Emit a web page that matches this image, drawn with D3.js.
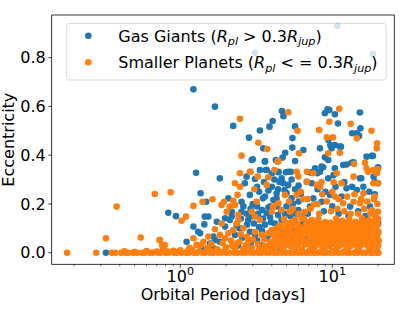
<!DOCTYPE html>
<html><head><meta charset="utf-8">
<script src="https://cdn.jsdelivr.net/npm/d3@7"></script>
<style>html,body{margin:0;padding:0;background:#fff;}svg{display:block;font-family:"DejaVu Sans",sans-serif;}</style>
</head><body>
<svg id="chart" width="415" height="311"></svg>
<script>
// ---- data: [orbital period (days), eccentricity] ----
const gasGiants = [
[3.1,0.82],[10.8,0.93],[18.5,0.815],
[1.22,0.670],[1.69,0.599],[2.23,0.520],[2.83,0.472],[3.34,0.501],[3.86,0.517],[4.05,0.540],[4.66,0.581],[4.77,0.560],[5.47,0.470],[5.69,0.518],[5.46,0.431],[6.45,0.421],[8.94,0.572],[9.3,0.588],[9.56,0.585],[10.4,0.568],[10.9,0.530],[15.2,0.575],[15.3,0.510],[13.5,0.490],[15.0,0.479],[9.7,0.442],[10.4,0.442],[11.2,0.435],[9.9,0.428],[8.3,0.428],[18.2,0.397],[8.94,0.391],[9.4,0.380],[13.4,0.369],[11.8,0.360],[8.7,0.350],[10.4,0.346],[7.33,0.328],[7.96,0.326],
[3.52,0.428],[2.95,0.380],[3.61,0.376],[4.25,0.380],[4.71,0.390],[5.69,0.376],[3.34,0.339],[3.66,0.339],[4.42,0.332],[5.13,0.332],[5.34,0.332],
[1.27,0.328],[1.82,0.305],[1.36,0.244],[1.48,0.209],[2.07,0.223],[0.834,0.164],[0.937,0.150],[1.45,0.148],[1.53,0.148],[1.44,0.116],[1.31,0.086],[1.74,0.127],[1.97,0.141],[2.18,0.148],[2.18,0.168],[1.82,0.045],[1.10,0.045],[1.57,0.038],[1.65,0.018],[1.69,0.052],[1.38,0.018],[2.35,0.114],[2.29,0.073],[0.324,0.0],[1.22,0.107],[1.35,0.080],[1.65,0.066],[1.97,0.107],[2.12,0.134],[2.73,0.160],[3.0,0.200],[3.5,0.223],
[2.73,0.312],[4.42,0.330],[4.64,0.305],[5.13,0.278],[6.8,0.291],[7.33,0.285],[2.66,0.285],[4.0,0.270],[2.87,0.237],[2.53,0.209],[5.4,0.223],[3.61,0.230],[4.3,0.223],[2.53,0.168],[2.8,0.134],[3.7,0.162],[5.98,0.175],[7.13,0.189],[4.64,0.134],[4.19,0.120],[6.45,0.120],[2.87,0.086],[3.1,0.073],[3.7,0.059],[4.3,0.066],[4.88,0.032],[3.79,0.025],
[8.3,0.332],[9.4,0.305],[10.2,0.318],[15.2,0.305],[12.4,0.264],[14.5,0.257],[9.66,0.237],[7.5,0.223],[8.5,0.209],[11.5,0.230],[17.7,0.189],[13.1,0.189],
[3.0,0.383],[3.6,0.373],[4.9,0.41],[4.95,0.33],[7.1,0.33],[7.7,0.346],[8.5,0.353],[12.4,0.362],[13.8,0.371],[15.5,0.305],[18.7,0.312],[19.1,0.29],[20.0,0.285],[3.1,0.302],[3.2,0.27],[3.7,0.34],[4.0,0.326],[4.16,0.30],[4.75,0.285],[4.85,0.257],[4.3,0.243],[4.1,0.216],[3.9,0.19],[16.8,0.394],[18.5,0.397],[20.0,0.350],[14.5,0.49],[11.4,0.435],[9.42,0.462],
[2.6,0.19],[2.9,0.18],[3.2,0.19],[3.45,0.175],[3.8,0.185],[4.3,0.19],[4.6,0.175],[5.0,0.19],[5.5,0.2],[6.0,0.21],
[2.5,0.14],[2.95,0.15],[3.25,0.16],[3.5,0.14],[3.9,0.145],[4.4,0.155],[4.9,0.16],[5.3,0.15],[5.8,0.16],[6.3,0.15],[6.9,0.16],
[2.45,0.1],[2.75,0.115],[3.05,0.12],[3.3,0.105],[3.6,0.115],[3.95,0.125],[4.5,0.11],[5.1,0.105],[5.6,0.09],[6.2,0.1],[7.0,0.11],[7.8,0.12],
[2.55,0.06],[3.2,0.05],[3.45,0.09],[3.95,0.075],[4.6,0.085],[5.3,0.06],[6.0,0.05],[6.7,0.07],[2.4,0.03],[2.9,0.035],[3.4,0.03],[4.1,0.04],[4.5,0.02],[5.5,0.025],
[3.3,0.25],[3.8,0.255],[4.4,0.26],[5.0,0.245],[5.7,0.26],[6.2,0.24],[3.55,0.29],[4.5,0.29],[5.4,0.3],[6.0,0.275],
[8.0,0.26],[9.0,0.25],[10.5,0.27],[12.0,0.29],[13.5,0.27],[16.0,0.27],[17.5,0.25],[19.0,0.24],[8.8,0.17],[10.0,0.19],[11.0,0.16],[12.8,0.15],[14.8,0.17],[16.5,0.15],[18.8,0.12],[19.5,0.09],[20.0,0.12],[8.2,0.08],[10.8,0.06],[13.0,0.05],[15.5,0.04],[17.0,0.07],[19.5,0.04],[9.5,0.03],[7.5,0.04],[19.8,0.0],[18.0,0.0]
];

const smallerPlanets = [
[0.18,0.0],[0.28,0.0],[0.355,0.0],[0.375,0.0],
[0.324,0.059],[0.381,0.189],[0.549,0.062],[0.68,0.241],[0.865,0.248],[0.73,0.052],[0.76,0.031],[0.77,0.02],
[1.02,0.131],[1.09,0.148],[1.22,0.192],[1.40,0.209],[1.63,0.219],[1.87,0.196],[1.94,0.209],[2.23,0.213],[2.38,0.237],
[0.735,0.052],[0.79,0.032],[1.22,0.059],[1.28,0.032],[1.69,0.096],[1.87,0.12],[2.02,0.168],[2.12,0.189],[2.29,0.196],[1.82,0.073],[1.97,0.059],[2.07,0.08],[1.42,0.045],[1.53,0.066],[2.23,0.093],[2.41,0.134],[2.35,0.039],
[2.47,0.549],[5.13,0.576],[5.9,0.50],[9.56,0.537],[11.1,0.590],[13.2,0.529],[18.1,0.50],[8.2,0.503],[9.2,0.473],[10.1,0.473],[14.5,0.469],[19.7,0.449],[19.6,0.428],[9.4,0.408],[11.2,0.41],[16.4,0.369],[13.9,0.364],[16.8,0.346],[18.6,0.339],[19.9,0.342],[10.7,0.326],
[3.26,0.451],[3.73,0.425],[6.04,0.408],[2.53,0.398],[4.42,0.376],[2.9,0.332],[4.16,0.339],[5.83,0.332],[4.37,0.373],
[2.47,0.326],[2.87,0.332],[3.23,0.312],[3.79,0.309],[5.98,0.313],[6.8,0.332],[2.29,0.285],[2.47,0.27],[3.07,0.26],[3.7,0.278],[4.88,0.237],[5.83,0.237],[6.45,0.219],[3.18,0.209],[4.09,0.189],[4.42,0.203],[2.41,0.155],[2.95,0.168],[3.1,0.148],[3.34,0.134],[4.0,0.168],[4.64,0.175],[5.27,0.168],[6.6,0.168],[5.0,0.12],[5.69,0.134],[7.33,0.134],[2.35,0.12],[2.6,0.1],[2.8,0.045],[3.43,0.073],[4.0,0.093],[4.64,0.059],[4.3,0.1],[4.1,0.075],
[7.5,0.326],[7.9,0.278],[8.5,0.29],[11.5,0.285],[13.8,0.312],[17.2,0.332],[19.6,0.326],[18.6,0.285],[19.9,0.285],[16.0,0.244],[10.4,0.23],[11.8,0.203],[13.8,0.209],[15.2,0.203],[20.0,0.168],[18.2,0.175],[10.2,0.289],[6.8,0.29],[8.3,0.27],[19.0,0.23],
[6.2,0.25],[6.9,0.22],[7.6,0.2],[8.6,0.24],[9.2,0.21],[10.0,0.25],[11.0,0.22],[12.5,0.23],[14.0,0.24],[15.5,0.22],[17.0,0.21],[18.8,0.22],[19.8,0.2],[7.2,0.18],[8.2,0.16],[9.8,0.17],[10.8,0.18],[12.0,0.17],[13.2,0.16],[14.8,0.16],[16.2,0.18],[17.8,0.16],[19.2,0.15],[5.5,0.18],[6.0,0.16],[6.5,0.14],[8.0,0.2],[5.2,0.21],
[4.8,0.138],[5.6,0.132],[6.3,0.141],[7.4,0.128],[8.1,0.137],[9.0,0.126],[10.6,0.14],[11.6,0.131],[12.9,0.137],[14.2,0.127],[15.7,0.14],[17.4,0.133],[18.9,0.129],[20.0,0.138],
[5.2,0.122],[5.9,0.119],[6.9,0.124],[7.7,0.121],[8.5,0.118],[9.7,0.123],[11.0,0.12],[12.6,0.124],[13.8,0.118],[15.2,0.121],[16.6,0.125],[18.1,0.119],[19.5,0.123],
[4.5,0.112],[5.0,0.108],[5.5,0.115],[6.1,0.104],[6.7,0.113],[7.2,0.107],[8.0,0.116],[8.7,0.105],[9.5,0.111],[10.3,0.117],[11.3,0.106],[12.2,0.113],[13.4,0.109],[14.6,0.116],[15.9,0.104],[17.1,0.112],[18.5,0.107],[19.8,0.114],
[4.6,0.098],[5.3,0.101],[5.9,0.097],[6.9,0.1],[7.8,0.096],[8.4,0.102],[9.1,0.099],[10.0,0.097],[10.9,0.101],[12.5,0.098],[13.0,0.1],[14.1,0.096],[15.5,0.101],[16.8,0.098],[18.0,0.1],[19.3,0.097],
[4.7,0.088],[5.2,0.093],[5.8,0.085],[6.4,0.091],[7.0,0.087],[7.6,0.094],[8.3,0.086],[9.1,0.092],[9.8,0.089],[10.7,0.084],[11.7,0.093],[12.7,0.088],[13.9,0.091],[15.1,0.085],[16.4,0.094],[17.8,0.087],[19.2,0.092],[20.1,0.086],
[4.4,0.079],[5.0,0.081],[5.6,0.078],[6.1,0.08],[6.8,0.082],[7.4,0.077],[8.1,0.081],[8.9,0.079],[9.9,0.078],[11.2,0.08],[12.3,0.081],[13.5,0.077],[14.7,0.08],[16.0,0.082],[17.3,0.078],[18.9,0.08],[20.0,0.079],
[4.9,0.068],[5.4,0.072],[5.9,0.066],[6.5,0.074],[7.1,0.069],[7.8,0.065],[8.5,0.073],[9.3,0.067],[10.1,0.071],[11.0,0.066],[12.0,0.074],[13.1,0.068],[14.3,0.072],[15.5,0.066],[16.9,0.07],[18.3,0.073],[19.6,0.067],
[4.3,0.059],[5.0,0.061],[5.7,0.058],[6.3,0.062],[7.3,0.06],[8.0,0.057],[8.8,0.061],[9.9,0.059],[10.8,0.062],[11.8,0.058],[12.9,0.061],[14.0,0.057],[15.2,0.06],[16.6,0.062],[18.0,0.058],[19.4,0.061],
[4.6,0.048],[5.1,0.052],[5.6,0.046],[6.2,0.051],[6.8,0.047],[7.4,0.053],[8.1,0.049],[8.8,0.045],[9.6,0.052],[10.4,0.048],[11.4,0.051],[12.4,0.046],[13.6,0.053],[14.8,0.048],[16.1,0.05],[17.5,0.046],[19.0,0.052],[20.2,0.049],
[4.2,0.04],[4.7,0.038],[5.4,0.041],[6.0,0.039],[6.9,0.042],[7.7,0.038],[8.3,0.04],[9.1,0.041],[9.9,0.039],[10.8,0.04],[11.7,0.042],[12.8,0.038],[13.9,0.041],[15.1,0.039],[16.5,0.04],[17.9,0.042],[19.3,0.039],
[4.4,0.029],[4.9,0.033],[5.3,0.027],[5.9,0.031],[6.6,0.034],[7.2,0.028],[7.9,0.032],[8.6,0.026],[9.4,0.031],[10.2,0.035],[11.1,0.029],[12.1,0.033],[13.2,0.027],[14.4,0.031],[15.7,0.034],[17.1,0.028],[18.6,0.032],[20.0,0.03],
[2.3,0.018],[2.6,0.014],[2.95,0.02],[3.3,0.012],[3.7,0.017],[4.15,0.021],[4.7,0.014],[5.6,0.016],[6.3,0.013],[7.6,0.019],[8.9,0.015],[10.6,0.012],[12.6,0.018],[15.0,0.014],[17.8,0.017],[19.5,0.013],
[2.45,0.045],[2.7,0.03],[3.0,0.055],[3.25,0.035],[3.6,0.028],[3.9,0.045],[4.2,0.06],[2.2,0.028],[2.0,0.022],[1.75,0.015],[1.5,0.02],[1.2,0.012],[1.0,0.01],[0.9,0.008],
[2.5,0.075],[2.75,0.065],[3.1,0.085],[3.55,0.055],[3.8,0.08],[2.15,0.05],[1.9,0.04],[1.6,0.035],[1.35,0.03],[1.15,0.02],[2.6,0.01],[3.5,0.012],[4.0,0.03],
[0.41,0],[0.44,0],[0.455,0],[0.49,0],[0.52,0],[0.56,0],[0.585,0],[0.63,0],[0.66,0],[0.71,0],[0.745,0],[0.80,0],[0.84,0],[0.91,0],[0.95,0],[1.02,0],[1.09,0],[1.14,0],[1.23,0],[1.29,0],[1.39,0],[1.46,0],[1.57,0],[1.65,0],[1.77,0],[1.86,0],[2.0,0],[2.1,0],[2.26,0],[2.38,0],[2.55,0],[2.69,0],[2.88,0],[3.04,0],[3.25,0],[3.43,0],[3.67,0],[3.88,0],[4.14,0],[4.38,0],[4.68,0],[4.95,0],[5.28,0],[5.58,0],[5.96,0],[6.31,0],[6.74,0],[7.12,0],[7.6,0],[8.05,0],[8.6,0],[9.1,0],[9.7,0],[10.28,0],[10.97,0],[11.58,0],[12.4,0],[13.05,0],[14.0,0],[14.75,0],[15.8,0],[16.65,0],[17.85,0],[18.85,0],[20.1,0],
[0.43,0.006],[0.5,0.004],[0.6,0.007],[0.7,0.005],[0.82,0.006],[0.97,0.004],[1.12,0.007],[1.33,0.005],[1.6,0.006],[1.9,0.004],[2.3,0.007],[2.75,0.005],[3.3,0.006],[3.95,0.004],[4.8,0.007],[5.8,0.005],[7.0,0.006],[8.4,0.004],[10.0,0.007],[12.0,0.005],[14.4,0.006],[17.3,0.004],[19.6,0.007]
];

const yTicks = [0.0, 0.2, 0.4, 0.6, 0.8];
const xMajorTicks = [1, 10];
const xMinorTicks = [0.2,0.3,0.4,0.5,0.6,0.7,0.8,0.9,2,3,4,5,6,7,8,9,20];
const xDomain = [0.1426, 25.58];
const yDomain = [-0.0476, 0.975];
const legendLabels = ["Gas Giants", "Smaller Planets"];
const colors = ["#1f77b4", "#ff7f0e"];

// ---- layout ----
const L = 51.7, R = 394.3, T = 15, B = 264.3;
const FS = 16, SUB = 11.2;
const svg = d3.select("#chart");
const x = d3.scaleLog().domain(xDomain).range([L, R]);
const y = d3.scaleLinear().domain(yDomain).range([B, T]);
const rad = 3.3;

// points
[gasGiants, smallerPlanets].forEach((series, i) => {
  svg.append("g").selectAll("circle").data(series).join("circle")
    .attr("cx", d => x(d[0])).attr("cy", d => y(d[1]))
    .attr("r", rad).attr("fill", colors[i]);
});

// axes frame
svg.append("rect").attr("x", L).attr("y", T).attr("width", R - L).attr("height", B - T)
  .attr("fill", "none").attr("stroke", "#000").attr("stroke-width", 0.8);

// y ticks
const yg = svg.append("g");
yTicks.forEach(t => {
  yg.append("line").attr("x1", L).attr("x2", L - 3.3).attr("y1", y(t)).attr("y2", y(t))
    .attr("stroke", "#000").attr("stroke-width", 0.8);
  yg.append("text").attr("x", L - 6).attr("y", y(t) + 5.8).attr("text-anchor", "end")
    .attr("font-size", FS).attr("fill", "#000").text(d3.format(".1f")(t));
});

// x ticks
const xg = svg.append("g");
xMinorTicks.forEach(t => {
  xg.append("line").attr("x1", x(t)).attr("x2", x(t)).attr("y1", B).attr("y2", B + 1.9)
    .attr("stroke", "#000").attr("stroke-width", 0.6);
});
xMajorTicks.forEach(t => {
  xg.append("line").attr("x1", x(t)).attr("x2", x(t)).attr("y1", B).attr("y2", B + 3.3)
    .attr("stroke", "#000").attr("stroke-width", 0.8);
  const tx = xg.append("text").attr("x", x(t)).attr("y", 282).attr("text-anchor", "middle")
    .attr("font-size", FS).attr("fill", "#000");
  tx.append("tspan").text("10");
  tx.append("tspan").attr("font-size", SUB).attr("dy", -7).text(String(Math.round(Math.log10(t))));
});

// axis titles
svg.append("text").attr("x", (L + R) / 2).attr("y", 300).attr("text-anchor", "middle")
  .attr("font-size", FS).attr("fill", "#000").text("Orbital Period [days]");
svg.append("text").attr("transform", `translate(14,${(T + B) / 2}) rotate(-90)`)
  .attr("text-anchor", "middle").attr("font-size", FS).attr("fill", "#000").text("Eccentricity");

// legend
const lg = svg.append("g");
lg.append("rect").attr("x", 66.7).attr("y", 23.5).attr("width", 319.5).attr("height", 56.5)
  .attr("rx", 2.5).attr("fill", "rgba(255,255,255,0.8)").attr("stroke", "#d0d0d0").attr("stroke-width", 0.8);
const rows = [{op: " > ", y: 35.8}, {op: " < = ", y: 62.3}];
rows.forEach((r, i) => {
  lg.append("circle").attr("cx", 88.3).attr("cy", r.y).attr("r", rad).attr("fill", colors[i]);
  const t = lg.append("text").attr("x", 118.3).attr("y", r.y + 5.8).attr("font-size", FS).attr("fill", "#000")
    .attr("xml:space", "preserve");
  t.append("tspan").text(legendLabels[i] + " (");
  t.append("tspan").attr("font-style", "italic").text("R");
  t.append("tspan").attr("font-style", "italic").attr("font-size", SUB).attr("dy", 3.5).text("pl");
  t.append("tspan").attr("dy", -3.5).text(r.op + "0.3");
  t.append("tspan").attr("font-style", "italic").text("R");
  t.append("tspan").attr("font-style", "italic").attr("font-size", SUB).attr("dy", 3.5).text("jup");
  t.append("tspan").attr("dy", -3.5).text(")");
});
</script>
</body></html>
